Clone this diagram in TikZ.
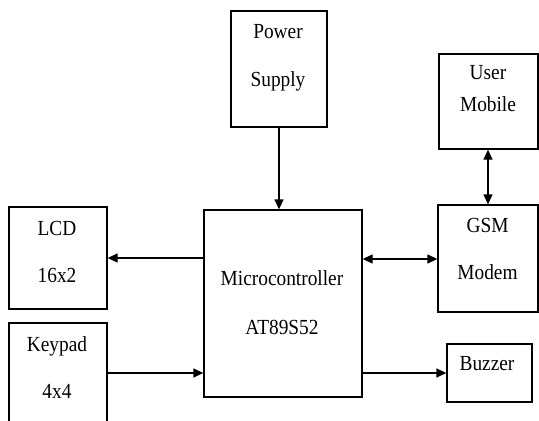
\documentclass[tikz,border=0pt]{standalone}
\usepackage{fontspec}
\setmainfont{Liberation Serif}
\newfontfamily\boxfont[FakeStretch=0.9]{Liberation Serif}
\usetikzlibrary{arrows.meta}
\begin{document}
\begin{tikzpicture}[x=1pt,y=-1pt,
  box/.style={draw, line width=1.3pt, inner sep=0pt},
  lbl/.style={anchor=base, inner sep=0pt, font=\boxfont\fontsize{21.5pt}{24pt}\selectfont},
  conn/.style={line width=1.3pt, -{Triangle[length=10pt,width=9pt]}},
  biconn/.style={line width=1.3pt, {Triangle[length=10pt,width=9pt]}-{Triangle[length=10pt,width=9pt]}}]
\clip (0,0) rectangle (539,421);
\fill[white] (0,0) rectangle (539,421);
% boxes
\node[box, minimum width=96pt, minimum height=116pt] (ps) at (279,69) {};
\node[box, minimum width=99pt, minimum height=95pt] (um) at (488.5,101.5) {};
\node[box, minimum width=98pt, minimum height=102pt] (lcd) at (58,258) {};
\node[box, minimum width=158pt, minimum height=187pt] (mc) at (283,303.5) {};
\node[box, minimum width=100pt, minimum height=107pt] (gsm) at (488,258.5) {};
\node[box, minimum width=98pt, minimum height=117pt] (kp) at (58,381.5) {};
\node[box, minimum width=85pt, minimum height=58pt] (bz) at (489.5,373) {};
% texts
\node[lbl] (t1) at (278,38) {Power};
\node[lbl] (t2) at (278,86) {Supply};
\node[lbl] (t3) at (488,79) {User};
\node[lbl] (t4) at (488,111) {Mobile};
\node[lbl] (t5) at (57,235) {LCD};
\node[lbl] (t6) at (57,282) {16x2};
\node[lbl] (t7) at (282,285) {Microcontroller};
\node[lbl] (t8) at (282,334) {AT89S52};
\node[lbl] (t9) at (487.5,232) {GSM};
\node[lbl] (t10) at (487.5,279) {Modem};
\node[lbl] (t11) at (57,351) {Keypad};
\node[lbl] (t12) at (57,398) {4x4};
\node[lbl] (t13) at (487,370) {Buzzer};
% connectors
\draw[conn] (ps.south) -- (mc.north -| ps.south);
\draw[conn] (mc.west |- 0,258) -- (lcd.east |- 0,258);
\draw[conn] (kp.east |- 0,373) -- (mc.west |- 0,373);
\draw[biconn] (mc.east |- 0,259) -- (gsm.west |- 0,259);
\draw[biconn] (um.south -| 488,0) -- (gsm.north -| 488,0);
\draw[conn] (mc.east |- bz.west) -- (bz.west);
\end{tikzpicture}
\end{document}
